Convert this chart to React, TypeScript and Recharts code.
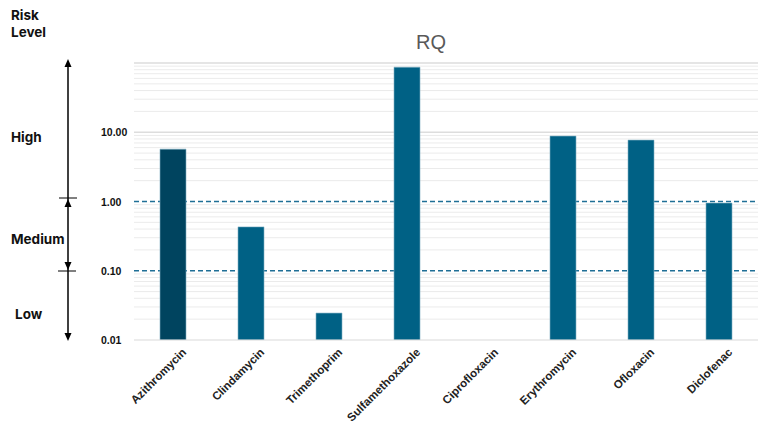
import { Bar, BarChart, Cell, ReferenceLine, XAxis, YAxis } from "recharts";

const drugs = [
  "Azithromycin",
  "Clindamycin",
  "Trimethoprim",
  "Sulfamethoxazole",
  "Ciprofloxacin",
  "Erythromycin",
  "Ofloxacin",
  "Diclofenac",
];
const rq: (number | null)[] = [5.7, 0.43, 0.0245, 87, null, 8.8, 7.7, 0.95];
const yTicks = [0.01, 0.1, 1, 10];
const thresholds = [0.1, 1];
const decades = [0.01, 0.1, 1, 10];

// log grid: 2..9 steps inside each decade, plus the decade lines
const minorGrid = decades.flatMap((d) => [2, 3, 4, 5, 6, 7, 8, 9].map((m) => +(m * d).toPrecision(3)));
const majorGrid = [10, 100];

const data = drugs.map((name, i) => ({ name, rq: rq[i] }));

const W = 770;
const H = 425;

function YTick({ y, payload }: any) {
  const label = Number(payload.value).toFixed(2);
  return (
    <text x={101} y={y + 4} fontSize={10.5} fontWeight={700} fill="#111" fontFamily="Liberation Sans, Arial, sans-serif">
      {label}
    </text>
  );
}

function XTick({ x, y, payload }: any) {
  return (
    <text
      x={0}
      y={0}
      transform={`translate(${x + 14},${y + 5}) rotate(-45)`}
      textAnchor="end"
      fontSize={11.5}
      fontWeight={700}
      fill="#222"
      fontFamily="Liberation Sans, Arial, sans-serif"
    >
      {payload.value}
    </text>
  );
}

function RiskScale() {
  const ax = 68;
  const head = (tipY: number, dir: 1 | -1) => (
    <polygon points={`${ax},${tipY} ${ax - 3.5},${tipY + 8 * dir} ${ax + 3.5},${tipY + 8 * dir}`} fill="#000" />
  );
  const font = { fontFamily: "Inter, Lato, sans-serif", fontWeight: 700, fontSize: 13.5, fill: "#111" };
  return (
    <svg width={W} height={H} style={{ position: "absolute", left: 0, top: 0, pointerEvents: "none" }}>
      <text x={11} y={20} {...font}>Risk</text>
      <text x={11} y={37} {...font}>Level</text>
      <text x={11} y={142} {...font}>High</text>
      <text x={11} y={244} {...font}>Medium</text>
      <text x={15} y={319} {...font}>Low</text>
      <line x1={ax} x2={ax} y1={62} y2={337} stroke="#000" strokeWidth={1.5} />
      {head(59, 1)}
      {head(199, 1)}
      {head(270, -1)}
      {head(341, -1)}
      <line x1={59} x2={77} y1={198} y2={198} stroke="#000" strokeWidth={1} />
      <line x1={58} x2={76} y1={271} y2={271} stroke="#000" strokeWidth={1} />
    </svg>
  );
}

export default function App() {
  return (
    <div style={{ position: "fixed", left: 0, top: 0, width: W, height: H, background: "#fff" }}>
      <BarChart width={W} height={H} data={data} margin={{ top: 63, right: 12, left: 0, bottom: 0 }} barSize={26}>
        <text x={431} y={49} textAnchor="middle" fontSize={20} fill="#595959" fontFamily="Liberation Sans, Arial, sans-serif">
          RQ
        </text>
        <XAxis
          dataKey="name"
          interval={0}
          tick={<XTick />}
          tickLine={false}
          axisLine={{ stroke: "#d9d9d9" }}
          height={85}
        />
        <YAxis
          scale="log"
          domain={[0.01, 100]}
          allowDataOverflow
          ticks={yTicks}
          tick={<YTick />}
          tickLine={false}
          axisLine={false}
          width={134}
        />
        {minorGrid.map((g) => (
          <ReferenceLine key={g} y={g} stroke="#ebebeb" strokeWidth={1} zIndex={-90} />
        ))}
        {majorGrid.map((g) => (
          <ReferenceLine key={g} y={g} stroke="#dddddd" strokeWidth={1.3} zIndex={-80} />
        ))}
        {thresholds.map((t) => (
          <ReferenceLine key={t} y={t} stroke="#1f6f96" strokeWidth={1.4} strokeDasharray="5 3" zIndex={-60} />
        ))}
        <Bar dataKey="rq" isAnimationActive={false} stroke="#7fb0c4" strokeWidth={0.6}>
          {data.map((d, i) => (
            <Cell key={d.name} fill={i === 0 ? "#00445f" : "#006185"} />
          ))}
        </Bar>
      </BarChart>
      <RiskScale />
    </div>
  );
}
